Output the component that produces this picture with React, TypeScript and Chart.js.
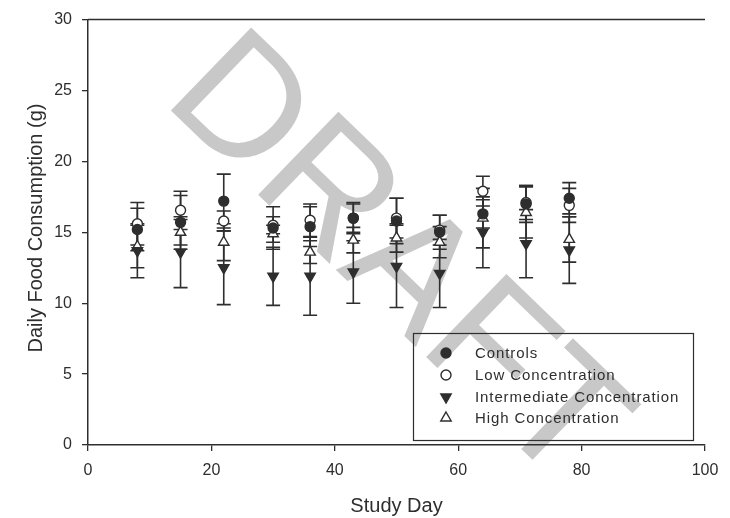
import React, { useEffect, useRef } from "react";
import { Chart, registerables } from "chart.js";

Chart.register(...registerables);

const studyDays = [8, 15, 22, 30, 36, 43, 50, 57, 64, 71, 78];

const controls = [15.2, 15.7, 17.2, 15.3, 15.4, 16.0, 15.8, 15.0, 16.3, 17.0, 17.4];
const controlsErr = [1.5, 1.9, 1.9, 1.5, 1.4, 1.0, 1.6, 1.2, 1.0, 1.3, 1.1];

const lowConc = [15.6, 16.55, 15.8, 15.5, 15.85, 16.0, 16.0, 15.15, 17.9, 17.1, 16.9];
const lowErr = [1.5, 1.35, 0.7, 0.6, 1.15, 1.1, 1.4, 1.05, 1.05, 1.2, 1.2];

const intermediateConc = [13.7, 13.6, 12.5, 11.9, 11.9, 12.2, 12.6, 12.1, 15.0, 14.2, 13.75];
const intermediateErr = [1.9, 2.5, 2.6, 2.05, 2.75, 2.2, 2.9, 2.4, 2.5, 2.4, 2.35];

const highConc = [14.0, 15.0, 14.3, 14.9, 13.6, 14.45, 14.6, 14.3, 16.0, 16.4, 14.5];
const highErr = [1.5, 0.9, 1.3, 0.6, 0.8, 0.9, 1.0, 1.1, 2.1, 1.8, 1.6];

const seriesNames = ["Controls", "Low Concentration", "Intermediate Concentration", "High Concentration"];
const xTicks = [0, 20, 40, 60, 80, 100];
const yTicks = [0, 5, 10, 15, 20, 25, 30];

const xTitle = "Study Day";
const yTitle = "Daily Food Consumption (g)";
const watermark = "DRAFT";

const INK = "#2e2e2e";
const FONT = '"Liberation Sans", Arial, Helvetica, sans-serif';

const seriesValues = [controls, lowConc, intermediateConc, highConc];
const seriesErrors = [controlsErr, lowErr, intermediateErr, highErr];

function drawMarker(ctx: CanvasRenderingContext2D, kind: string, r: number, rot: number, fill: string, x: number, y: number) {
  ctx.save();
  ctx.fillStyle = fill;
  ctx.strokeStyle = INK;
  ctx.lineWidth = 1.4;
  ctx.beginPath();
  if (kind === "circle") {
    ctx.arc(x, y, r, 0, Math.PI * 2);
  } else {
    let a = (rot * Math.PI) / 180;
    const step = (2 * Math.PI) / 3;
    ctx.moveTo(x + Math.sin(a) * r, y - Math.cos(a) * r);
    a += step;
    ctx.lineTo(x + Math.sin(a) * r, y - Math.cos(a) * r);
    a += step;
    ctx.lineTo(x + Math.sin(a) * r, y - Math.cos(a) * r);
    ctx.closePath();
  }
  ctx.fill();
  ctx.stroke();
  ctx.restore();
}

export default function App() {
  const ref = useRef<HTMLCanvasElement | null>(null);

  useEffect(() => {
    document.body.style.margin = "0";
    const canvas = ref.current;
    if (!canvas) return;

    const styles = [
      { pointStyle: "circle", radius: 5, fill: INK, rotation: 0 },
      { pointStyle: "circle", radius: 5, fill: "#ffffff", rotation: 0 },
      { pointStyle: "triangle", radius: 6, fill: INK, rotation: 180 },
      { pointStyle: "triangle", radius: 6, fill: "#ffffff", rotation: 0 },
    ];

    const datasets = seriesNames.map((name, i) => ({
      label: name,
      data: studyDays.map((d, j) => ({ x: d, y: seriesValues[i][j] })),
      pointStyle: styles[i].pointStyle as any,
      pointRadius: styles[i].radius,
      pointRotation: styles[i].rotation,
      backgroundColor: styles[i].fill,
      borderColor: INK,
      borderWidth: 1.4,
      showLine: false,
    }));

    const watermarkPlugin = {
      id: "watermark",
      beforeDraw(chart: any) {
        const ctx = chart.ctx;
        ctx.save();
        ctx.translate(161, 101);
        ctx.rotate((44 * Math.PI) / 180);
        ctx.font = `168px ${FONT}`;
        ctx.fillStyle = "#c8c8c8";
        ctx.textBaseline = "alphabetic";
        ctx.textAlign = "left";
        ctx.fillText(watermark, 0, 0);
        ctx.restore();
      },
    };

    const errorBarPlugin = {
      id: "errorBars",
      beforeDatasetsDraw(chart: any) {
        const ctx = chart.ctx;
        const xs = chart.scales.x;
        const ys = chart.scales.y;
        ctx.save();
        ctx.strokeStyle = INK;
        ctx.lineWidth = 1.6;
        const half = 7;
        seriesValues.forEach((vals, i) => {
          vals.forEach((v, j) => {
            const e = seriesErrors[i][j];
            const px = xs.getPixelForValue(studyDays[j]);
            const top = ys.getPixelForValue(v + e);
            const bot = ys.getPixelForValue(v - e);
            ctx.beginPath();
            ctx.moveTo(px, top);
            ctx.lineTo(px, bot);
            ctx.moveTo(px - half, top);
            ctx.lineTo(px + half, top);
            ctx.moveTo(px - half, bot);
            ctx.lineTo(px + half, bot);
            ctx.stroke();
          });
        });
        ctx.restore();
      },
    };

    const decorPlugin = {
      id: "decor",
      afterDraw(chart: any) {
        const ctx = chart.ctx;
        const area = chart.chartArea;
        ctx.save();
        ctx.strokeStyle = INK;
        ctx.lineWidth = 1.5;
        ctx.beginPath();
        ctx.moveTo(area.left, area.top);
        ctx.lineTo(area.right, area.top);
        ctx.stroke();

        ctx.fillStyle = INK;
        ctx.font = `20px ${FONT}`;
        ctx.textAlign = "center";
        ctx.textBaseline = "alphabetic";
        ctx.fillText(xTitle, (area.left + area.right) / 2, 512);
        ctx.save();
        ctx.translate(42, 228);
        ctx.rotate(-Math.PI / 2);
        ctx.fillText(yTitle, 0, 0);
        ctx.restore();

        const bx = 413.5, by = 333.5, bw = 280, bh = 107;
        ctx.lineWidth = 1.2;
        ctx.strokeStyle = INK;
        ctx.strokeRect(bx, by, bw, bh);
        const rowY = [353, 375, 397, 418];
        ctx.font = `15px ${FONT}`;
        (ctx as any).letterSpacing = "0.9px";
        ctx.textAlign = "left";
        ctx.textBaseline = "middle";
        seriesNames.forEach((name, i) => {
          const st = styles[i];
          drawMarker(ctx, st.pointStyle, st.radius, st.rotation, st.fill, 446, rowY[i]);
          ctx.fillStyle = INK;
          ctx.fillText(name, 475, rowY[i] + 1);
        });
        (ctx as any).letterSpacing = "0px";
        ctx.restore();
      },
    };

    const chart = new Chart(canvas, {
      type: "scatter",
      data: { datasets: datasets as any },
      options: {
        animation: false,
        responsive: false,
        maintainAspectRatio: false,
        layout: { padding: { top: 16, right: 25, left: 0, bottom: 0 } },
        plugins: {
          legend: { display: false },
          tooltip: { enabled: false },
        },
        scales: {
          x: {
            type: "linear",
            min: 0,
            max: 100,
            afterFit: (s: any) => { s.height = 73; },
            afterBuildTicks: (s: any) => { s.ticks = xTicks.map((v) => ({ value: v })); },
            grid: { display: true, drawOnChartArea: false, drawTicks: true, tickLength: 6, tickColor: INK, lineWidth: 1.3 },
            border: { display: true, color: INK, width: 1.5 },
            ticks: { color: INK, font: { family: FONT, size: 16 }, padding: 10, maxRotation: 0 },
          },
          y: {
            type: "linear",
            min: 0,
            max: 30,
            afterFit: (s: any) => { s.width = 88; },
            afterBuildTicks: (s: any) => { s.ticks = yTicks.map((v) => ({ value: v })); },
            grid: { display: true, drawOnChartArea: false, drawTicks: true, tickLength: 6, tickColor: INK, lineWidth: 1.3 },
            border: { display: true, color: INK, width: 1.5 },
            ticks: { color: INK, font: { family: FONT, size: 16 }, padding: 10 },
          },
        },
      },
      plugins: [watermarkPlugin, errorBarPlugin, decorPlugin],
    });

    return () => chart.destroy();
  }, []);

  return (
    <div style={{ position: "absolute", left: 0, top: 0, width: 730, height: 518, background: "#ffffff" }}>
      <canvas ref={ref} width={730} height={518} style={{ width: 730, height: 518, display: "block" }} />
    </div>
  );
}
